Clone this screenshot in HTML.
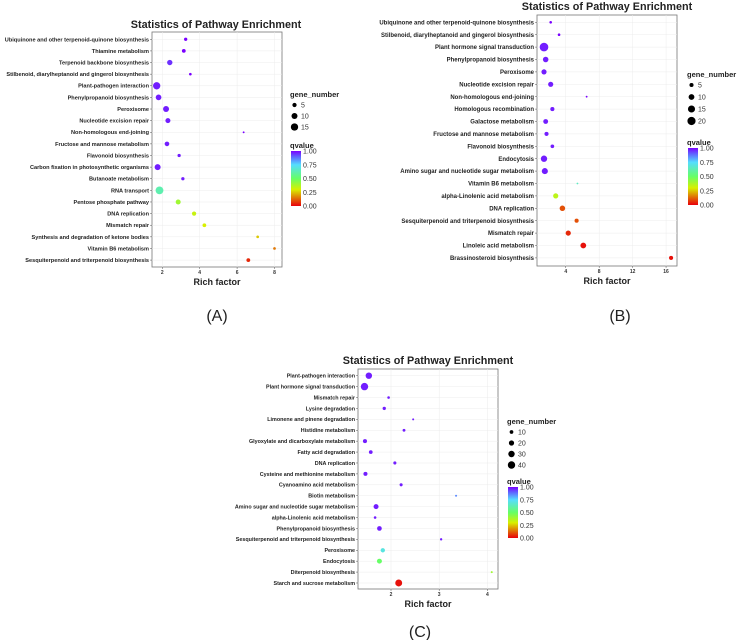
<!DOCTYPE html>
<html><head><meta charset="utf-8">
<style>
html,body{margin:0;padding:0;background:#fff;}
svg{display:block;font-family:"Liberation Sans",sans-serif;}
</style></head>
<body>
<svg id="root" width="743" height="640" viewBox="0 0 743 640">
<defs>
<linearGradient id="qgrad" x1="0" y1="1" x2="0" y2="0">
<stop offset="0" stop-color="#e8000b"/>
<stop offset="0.3" stop-color="#d8f000"/>
<stop offset="0.5" stop-color="#66ff66"/>
<stop offset="0.75" stop-color="#55ddff"/>
<stop offset="0.9" stop-color="#6060ff"/>
<stop offset="1" stop-color="#7a00ff"/>
</linearGradient>
</defs>
</svg>
<script>
// Panel A data
const catsA=["Ubiquinone and other terpenoid-quinone biosynthesis","Thiamine metabolism","Terpenoid backbone biosynthesis","Stilbenoid, diarylheptanoid and gingerol biosynthesis","Plant-pathogen interaction","Phenylpropanoid biosynthesis","Peroxisome","Nucleotide excision repair","Non-homologous end-joining","Fructose and mannose metabolism","Flavonoid biosynthesis","Carbon fixation in photosynthetic organisms","Butanoate metabolism","RNA transport","Pentose phosphate pathway","DNA replication","Mismatch repair","Synthesis and degradation of ketone bodies","Vitamin B6 metabolism","Sesquiterpenoid and triterpenoid biosynthesis"];
const richA=[3.25,3.15,2.4,3.5,1.7,1.8,2.2,2.3,6.35,2.25,2.9,1.75,3.1,1.85,2.85,3.7,4.25,7.1,8.0,6.6];
const genesA=[3,4,8,2,15,9,10,7,1,6,3,10,3,17,7,5,4,2,2,4];
const qA=[1,1,0.95,1,0.97,0.97,0.97,0.97,1,0.97,0.97,0.97,0.97,0.62,0.4,0.33,0.3,0.25,0.15,0.05];
const ticksA=[2,4,6,8];
const sizeTicksA=[5,10,15];
// Panel B data
const catsB=["Ubiquinone and other terpenoid-quinone biosynthesis","Stilbenoid, diarylheptanoid and gingerol biosynthesis","Plant hormone signal transduction","Phenylpropanoid biosynthesis","Peroxisome","Nucleotide excision repair","Non-homologous end-joining","Homologous recombination","Galactose metabolism","Fructose and mannose metabolism","Flavonoid biosynthesis","Endocytosis","Amino sugar and nucleotide sugar metabolism","Vitamin B6 metabolism","alpha-Linolenic acid metabolism","DNA replication","Sesquiterpenoid and triterpenoid biosynthesis","Mismatch repair","Linoleic acid metabolism","Brassinosteroid biosynthesis"];
const richB=[2.2,3.2,1.4,1.6,1.4,2.2,6.5,2.4,1.6,1.7,2.4,1.4,1.5,5.4,2.8,3.6,5.3,4.3,6.1,16.6];
const genesB=[2,2,22,9,8,8,1,5,7,5,4,12,11,1,8,9,5,8,10,5];
const qB=[1,1,0.97,0.97,0.97,0.97,1,0.97,0.97,0.97,0.97,0.97,0.97,0.65,0.35,0.1,0.1,0.05,0.02,0.02];
const ticksB=[4,8,12,16];
const sizeTicksB=[5,10,15,20];
// Panel C data
const catsC=["Plant-pathogen interaction","Plant hormone signal transduction","Mismatch repair","Lysine degradation","Limonene and pinene degradation","Histidine metabolism","Glyoxylate and dicarboxylate metabolism","Fatty acid degradation","DNA replication","Cysteine and methionine metabolism","Cyanoamino acid metabolism","Biotin metabolism","Amino sugar and nucleotide sugar metabolism","alpha-Linolenic acid metabolism","Phenylpropanoid biosynthesis","Sesquiterpenoid and triterpenoid biosynthesis","Peroxisome","Endocytosis","Diterpenoid biosynthesis","Starch and sucrose metabolism"];
const richC=[1.54,1.45,1.95,1.86,2.46,2.27,1.46,1.58,2.08,1.47,2.21,3.35,1.69,1.67,1.76,3.04,1.83,1.76,4.09,2.16];
const genesC=[30,40,5,8,3,6,12,10,7,12,7,3,18,5,16,4,14,18,3,35];
const qC=[0.97,0.97,0.97,0.97,0.97,0.97,0.97,0.97,0.97,0.97,0.97,0.85,0.97,0.97,0.97,0.97,0.7,0.5,0.4,0.02];
const ticksC=[2,3,4];
const sizeTicksC=[10,20,30,40];
const qTicks=[1.00,0.75,0.50,0.25,0.00];

const NS="http://www.w3.org/2000/svg";
const root=document.getElementById('root');
function mk(tag,attrs,parent){const e=document.createElementNS(NS,tag);for(const k in attrs)e.setAttribute(k,attrs[k]);(parent||root).appendChild(e);return e;}
const stops=[[0,[232,0,11]],[0.3,[216,240,0]],[0.5,[102,255,102]],[0.75,[85,221,255]],[0.9,[96,96,255]],[1,[122,0,255]]];
function qColor(q){for(let i=1;i<stops.length;i++){if(q<=stops[i][0]){const a=stops[i-1],b=stops[i];const t=(q-a[0])/(b[0]-a[0]);const c=a[1].map((v,j)=>Math.round(v+(b[1][j]-v)*t));return `rgb(${c[0]},${c[1]},${c[2]})`;}}return 'rgb(122,0,255)';}

function panel(cfg){
  const g=mk('g',{});
  
  
  const xs=v=>cfg.x0+v*cfg.ux;
  const ys=i=>cfg.yFirst+i*cfg.dy;
  const rs=n=>Math.max(0.6,cfg.rmax*Math.sqrt(n/cfg.nmax));
  const bg=mk('rect',{x:cfg.left,y:cfg.top,width:cfg.right-cfg.left,height:cfg.bottom-cfg.top,fill:'#fff',stroke:'#777','stroke-width':0.8},g);
  
  
  cfg.cats.forEach((c,i)=>{mk('line',{x1:cfg.left,x2:cfg.right,y1:ys(i),y2:ys(i),stroke:'#ececec','stroke-width':0.5},g);});
  cfg.ticks.forEach(t=>{mk('line',{x1:xs(t),x2:xs(t),y1:cfg.top,y2:cfg.bottom,stroke:'#ececec','stroke-width':0.5},g);
    mk('line',{x1:xs(t),x2:xs(t),y1:cfg.bottom,y2:cfg.bottom+2,stroke:'#555','stroke-width':0.5},g);
    const tl=mk('text',{x:xs(t),y:cfg.bottom+7,'font-size':5,'text-anchor':'middle',fill:'#333','font-weight':'bold'},g);tl.textContent=t;
    
    
  });
  cfg.cats.forEach((c,i)=>{
    mk('line',{x1:cfg.left-2,x2:cfg.left,y1:ys(i),y2:ys(i),stroke:'#555','stroke-width':0.5},g);
    const t=mk('text',{x:cfg.left-3,y:ys(i)+cfg.fs*0.35,'font-size':cfg.fs,'text-anchor':'end',fill:'#222','font-weight':'bold'},g);t.textContent=c;
    
    
    const p=mk('circle',{cx:xs(cfg.rich[i]),cy:ys(i),r:rs(cfg.genes[i]),fill:qColor(cfg.q[i])},g);
    
    
  });
  const ti=mk('text',{x:cfg.titleX,y:cfg.titleY,'font-size':10.8,'font-weight':'bold','text-anchor':'middle',fill:'#222'},g);ti.textContent='Statistics of Pathway Enrichment';
  
  
  const xt=mk('text',{x:(cfg.left+cfg.right)/2,y:cfg.bottom+18,'font-size':9,'font-weight':'bold','text-anchor':'middle',fill:'#222'},g);xt.textContent='Rich factor';
  
  
  const lg=mk('text',{x:cfg.lx,y:cfg.ly,'font-size':7.5,'font-weight':'bold',fill:'#222'},g);lg.textContent='gene_number';
  
  
  cfg.sizeTicks.forEach((s,i)=>{const cy=cfg.ly+8+i*cfg.lstep;
    const c=mk('circle',{cx:cfg.lx+4.5,cy:cy,r:rs(s),fill:'#000'},g);
    
    
    const t=mk('text',{x:cfg.lx+11,y:cy+2.5,'font-size':7,fill:'#333'},g);t.textContent=s;});
  const qt=mk('text',{x:cfg.lx,y:cfg.qy,'font-size':7.5,'font-weight':'bold',fill:'#222'},g);qt.textContent='qvalue';
  
  
  const cb=mk('rect',{x:cfg.lx+1,y:cfg.qy+3,width:10,height:cfg.cbh,fill:'url(#qgrad)'},g);
  
  
  qTicks.forEach(v=>{const y=cfg.qy+3+(1-v)*cfg.cbh;
    const t=mk('text',{x:cfg.lx+13,y:y+2.5,'font-size':7,fill:'#333'},g);t.textContent=v.toFixed(2);});
  const pl=mk('text',{x:cfg.labX,y:cfg.labY,'font-size':16,'text-anchor':'middle',fill:'#222'},g);pl.textContent=cfg.lab;
  
  
}
panel({name:'panel-a',cats:catsA,rich:richA,genes:genesA,q:qA,ticks:ticksA,sizeTicks:sizeTicksA,
 left:152,right:282,top:32,bottom:267,yFirst:39.3,dy:11.62,x0:124.9,ux:18.7,rmax:3.9,nmax:17,fs:5.6,
 titleX:216,titleY:28,lx:290,ly:97,lstep:11,qy:148,cbh:55,labX:217,labY:321,lab:'(A)'});
panel({name:'panel-b',cats:catsB,rich:richB,genes:genesB,q:qB,ticks:ticksB,sizeTicks:sizeTicksB,
 left:537,right:677,top:15,bottom:266,yFirst:22.3,dy:12.4,x0:532.3,ux:8.36,rmax:4.3,nmax:22,fs:6.0,
 titleX:607,titleY:10,lx:687,ly:77,lstep:12,qy:145,cbh:57,labX:620,labY:321,lab:'(B)'});
panel({name:'panel-c',cats:catsC,rich:richC,genes:genesC,q:qC,ticks:ticksC,sizeTicks:sizeTicksC,
 left:358,right:498,top:369,bottom:589,yFirst:375.7,dy:10.91,x0:294.6,ux:48.2,rmax:3.7,nmax:40,fs:5.4,
 titleX:428,titleY:364,lx:507,ly:424,lstep:11,qy:484,cbh:51,labX:420,labY:637,lab:'(C)'});
</script>
</body></html>
